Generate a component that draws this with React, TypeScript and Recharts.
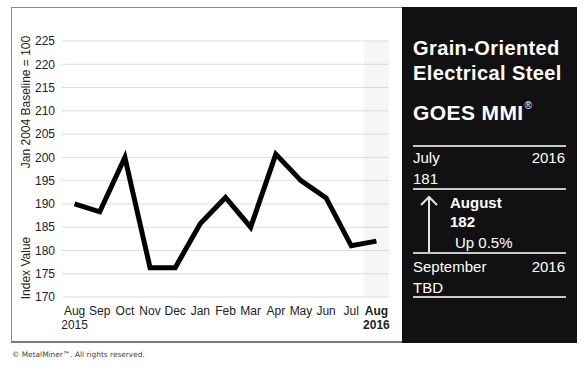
import { LineChart, Line, XAxis, YAxis, CartesianGrid, ReferenceArea } from 'recharts';

const months = ['Aug', 'Sep', 'Oct', 'Nov', 'Dec', 'Jan', 'Feb', 'Mar', 'Apr', 'May', 'Jun', 'Jul', 'Aug'];
const years = ['2015', '', '', '', '', '', '', '', '', '', '', '', '2016'];
const goesIndex = [190, 188.3, 200, 176.3, 176.3, 185.8, 191.4, 185, 200.7, 195, 191.3, 181, 182];
const yTicks = [170, 175, 180, 185, 190, 195, 200, 205, 210, 215, 220, 225];

const data = months.map((m, i) => ({ key: `${m} ${i}`, month: m, year: years[i], value: goesIndex[i] }));
const lastKey = data[data.length - 1].key;

const font = '"Liberation Sans", Arial, Helvetica, sans-serif';

const MonthTick = (props: any) => {
  const { x, y, payload } = props;
  const row = data[payload.index];
  const isLast = payload.index === data.length - 1;
  return (
    <g>
      <text x={x} y={y + 12} textAnchor="middle" fontSize={12} fill="#222" fontFamily={font} fontWeight={isLast ? 700 : 400}>
        {row.month}
      </text>
      {row.year && (
        <text x={x} y={y + 26} textAnchor="middle" fontSize={12} fill="#222" fontFamily={font} fontWeight={isLast ? 700 : 400}>
          {row.year}
        </text>
      )}
    </g>
  );
};

const AxisTitles = (props: any) => {
  const vb = props.viewBox;
  const cx = vb.x + 14;
  return (
    <g fontFamily={font} fontSize={12} fill="#222">
      <text x={cx} y={vb.y + 61} textAnchor="middle" dominantBaseline="central" transform={`rotate(-90 ${cx} ${vb.y + 61})`}>
        Jan 2004 Baseline = 100
      </text>
      <text x={cx} y={vb.y + 227} textAnchor="middle" dominantBaseline="central" transform={`rotate(-90 ${cx} ${vb.y + 227})`}>
        Index Value
      </text>
    </g>
  );
};

const panelText = { position: 'absolute' as const, color: '#fff', fontFamily: font, lineHeight: 1, whiteSpace: 'nowrap' as const };
const rule = (top: number) => (
  <div style={{ position: 'absolute', left: 11, width: 153, top, height: 2, background: '#c8c8c8' }} />
);

export default function App() {
  return (
    <div style={{ position: 'absolute', left: 0, top: 0, width: 585, height: 371, background: '#fff', overflow: 'hidden' }}>
      <div
        style={{
          position: 'absolute', left: 11, top: 7, width: 395, height: 336, boxSizing: 'border-box',
          border: '1px solid #8a8a8a', borderBottom: '2px solid #7a7a7a',
        }}
      />
      <div style={{ position: 'absolute', left: 0, top: 0 }}>
        <LineChart width={402} height={343} data={data} margin={{ top: 41, right: 13, bottom: 16, left: 12 }}>
          <CartesianGrid vertical={false} stroke="#dcdcdc" strokeWidth={1} />
          <ReferenceArea x1={lastKey} x2={lastKey} y1={170} y2={225} fill="#d8d8d8" fillOpacity={0.22} stroke="none" ifOverflow="visible" />
          <XAxis dataKey="key" scale="band" axisLine={false} tickLine={false} tick={<MonthTick />} interval={0} height={30} tickSize={6} tickMargin={0} />
          <YAxis
            domain={[170, 225]}
            ticks={yTicks}
            axisLine={false}
            tickLine={false}
            tickSize={5}
            tickMargin={2}
            width={50}
            tick={{ fontSize: 12, fill: '#222', fontFamily: font }}
            label={<AxisTitles />}
          />
          <Line type="linear" dataKey="value" stroke="#000" strokeWidth={5} strokeLinejoin="miter" dot={false} activeDot={false} isAnimationActive={false} />
        </LineChart>
      </div>
      <div style={{ position: 'absolute', left: 402, top: 7, width: 175, height: 336, background: '#111' }}>
        <div style={{ ...panelText, left: 11, top: 31, fontSize: 20, fontWeight: 700, letterSpacing: 0.4 }}>Grain-Oriented</div>
        <div style={{ ...panelText, left: 11, top: 56, fontSize: 20, fontWeight: 700, letterSpacing: 0.4 }}>Electrical Steel</div>
        <div style={{ ...panelText, left: 11, top: 95, fontSize: 21, fontWeight: 700, letterSpacing: 0.4 }}>
          GOES MMI<sup style={{ fontSize: 10, verticalAlign: 'top', position: 'relative', top: -1, left: 1, fontWeight: 400 }}>®</sup>
        </div>
        {rule(138)}
        <div style={{ ...panelText, left: 11, top: 143, fontSize: 15 }}>July</div>
        <div style={{ ...panelText, right: 12, top: 143, fontSize: 15 }}>2016</div>
        <div style={{ ...panelText, left: 11, top: 164, fontSize: 15 }}>181</div>
        {rule(181)}
        <svg style={{ position: 'absolute', left: 17, top: 188 }} width={20} height={60}>
          <line x1={10} y1={2} x2={10} y2={58} stroke="#e6e6e6" strokeWidth={2} />
          <polyline points="2,10 10,2 18,10" fill="none" stroke="#e6e6e6" strokeWidth={2} />
        </svg>
        <div style={{ ...panelText, left: 48, top: 188, fontSize: 15, fontWeight: 700 }}>August</div>
        <div style={{ ...panelText, left: 48, top: 207, fontSize: 15, fontWeight: 700 }}>182</div>
        <div style={{ ...panelText, left: 53, top: 228, fontSize: 15 }}>Up 0.5%</div>
        {rule(245)}
        <div style={{ ...panelText, left: 11, top: 252, fontSize: 15 }}>September</div>
        <div style={{ ...panelText, right: 12, top: 252, fontSize: 15 }}>2016</div>
        <div style={{ ...panelText, left: 11, top: 273, fontSize: 15 }}>TBD</div>
        {rule(289)}
      </div>
      <div style={{ position: 'absolute', left: 12, top: 350, fontSize: 7.4, color: '#444', fontFamily: '"DejaVu Sans", Verdana, sans-serif', whiteSpace: 'nowrap' }}>
        © MetalMiner™. All rights reserved.
      </div>
    </div>
  );
}
